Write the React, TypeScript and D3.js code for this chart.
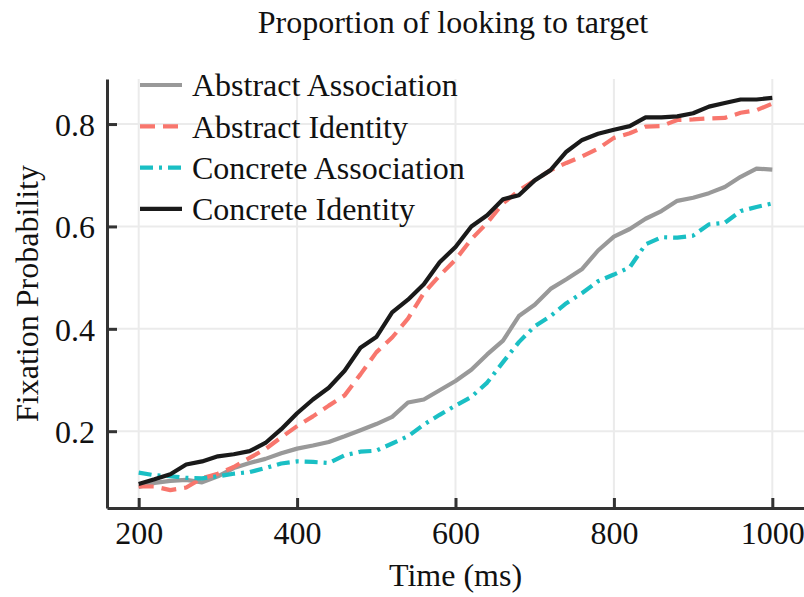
import React, { useEffect, useRef } from "react"
import * as d3 from "d3"

// time points (ms), every 20 ms
const times = [200, 220, 240, 260, 280, 300, 320, 340, 360, 380, 400, 420, 440, 460, 480, 500, 520, 540, 560, 580, 600,
  620, 640, 660, 680, 700, 720, 740, 760, 780, 800, 820, 840, 860, 880, 900, 920, 940, 960, 980, 1000]

const abstractAssociation = [0.091, 0.099, 0.103, 0.105, 0.100, 0.112, 0.128, 0.138, 0.146, 0.157, 0.166, 0.172, 0.179, 0.190,
  0.202, 0.214, 0.228, 0.256, 0.262, 0.280, 0.298, 0.320, 0.350, 0.377, 0.425, 0.447, 0.478, 0.497, 0.517, 0.553,
  0.580, 0.595, 0.615, 0.630, 0.650, 0.656, 0.665, 0.677, 0.697, 0.713, 0.711]

const abstractIdentity = [0.092, 0.092, 0.085, 0.090, 0.108, 0.117, 0.130, 0.148, 0.165, 0.188, 0.210, 0.229, 0.250, 0.270,
  0.311, 0.354, 0.383, 0.420, 0.470, 0.504, 0.535, 0.575, 0.607, 0.645, 0.670, 0.690, 0.710, 0.724, 0.737, 0.752,
  0.773, 0.782, 0.795, 0.796, 0.808, 0.809, 0.811, 0.812, 0.822, 0.827, 0.840]

const concreteAssociation = [0.119, 0.114, 0.112, 0.109, 0.108, 0.112, 0.117, 0.120, 0.128, 0.137, 0.141, 0.140, 0.138, 0.153,
  0.160, 0.162, 0.176, 0.190, 0.213, 0.232, 0.250, 0.267, 0.295, 0.335, 0.374, 0.405, 0.425, 0.450, 0.470, 0.493,
  0.506, 0.520, 0.565, 0.579, 0.578, 0.582, 0.604, 0.607, 0.630, 0.638, 0.645]

const concreteIdentity = [0.097, 0.106, 0.116, 0.135, 0.141, 0.151, 0.155, 0.161, 0.177, 0.204, 0.235, 0.262, 0.285, 0.318,
  0.363, 0.384, 0.432, 0.457, 0.487, 0.530, 0.560, 0.600, 0.622, 0.653, 0.661, 0.690, 0.710, 0.746, 0.769, 0.781,
  0.789, 0.796, 0.813, 0.813, 0.815, 0.821, 0.834, 0.841, 0.848, 0.848, 0.851]

const seriesNames = ["Abstract Association", "Abstract Identity", "Concrete Association", "Concrete Identity"]
const seriesValues = [abstractAssociation, abstractIdentity, concreteAssociation, concreteIdentity]
const seriesColors = ["#999999", "#F8766D", "#1ABFC4", "#1a1a1a"]
const seriesDash = ["none", "15,8", "13,6,3,6", "none"]

const xTicks = [200, 400, 600, 800, 1000]
const yTicks = [0.2, 0.4, 0.6, 0.8]

const W = 804
const H = 597
const FONT = "'Liberation Serif', 'Times New Roman', serif"
const FS = 32

export default function App() {
  const ref = useRef<SVGSVGElement>(null)

  useEffect(() => {
    const svg = d3.select(ref.current)
    svg.selectAll("*").remove()

    const margin = { top: 79, right: 0, bottom: 89, left: 107 }

    const x = d3.scaleLinear().domain([160, 1040]).range([margin.left, W - margin.right])
    const y = d3.scaleLinear().domain([0.05, 0.888]).range([H - margin.bottom, margin.top])

    // grid
    const grid = svg.append("g")
    grid.selectAll(".gx").data(xTicks).enter().append("line")
      .attr("x1", d => x(d)).attr("x2", d => x(d))
      .attr("y1", margin.top).attr("y2", H - margin.bottom)
      .attr("stroke", "#ebebeb").attr("stroke-width", 2)
    grid.selectAll(".gy").data(yTicks).enter().append("line")
      .attr("x1", margin.left).attr("x2", W - margin.right)
      .attr("y1", d => y(d)).attr("y2", d => y(d))
      .attr("stroke", "#ebebeb").attr("stroke-width", 2)

    // lines
    const line = d3.line<number>()
      .x((d, i) => x(times[i]))
      .y(d => y(d))

    seriesValues.forEach((vals, k) => {
      svg.append("path")
        .datum(vals)
        .attr("fill", "none")
        .attr("stroke", seriesColors[k])
        .attr("stroke-width", 4.2)
        .attr("stroke-dasharray", seriesDash[k])
        .attr("stroke-linejoin", "round")
        .attr("d", line)
    })

    // axes
    const xAxis = svg.append("g")
      .attr("transform", `translate(0,${H - margin.bottom})`)
      .call(d3.axisBottom(x).tickValues(xTicks).tickSizeInner(-10).tickSizeOuter(0).tickPadding(13).tickFormat(d3.format("d")))
    const yAxis = svg.append("g")
      .attr("transform", `translate(${margin.left},0)`)
      .call(d3.axisLeft(y).tickValues(yTicks).tickSizeInner(-10).tickSizeOuter(0).tickPadding(12).tickFormat(d3.format(".1f")))

    ;[xAxis, yAxis].forEach(g => {
      g.select(".domain").attr("stroke", "#333333").attr("stroke-width", 3)
      g.selectAll(".tick line").attr("stroke", "#333333").attr("stroke-width", 3)
      g.selectAll(".tick text").attr("fill", "#111").attr("font-size", FS).attr("font-family", FONT)
    })
    yAxis.selectAll(".tick text").attr("dy", "0.35em")
    xAxis.selectAll(".tick text").attr("dy", "0.71em")

    // titles
    svg.append("text")
      .attr("x", 453).attr("y", 33)
      .attr("text-anchor", "middle")
      .attr("font-family", FONT).attr("font-size", FS).attr("fill", "#111")
      .text("Proportion of looking to target")

    svg.append("text")
      .attr("x", (margin.left + W) / 2).attr("y", 586)
      .attr("text-anchor", "middle")
      .attr("font-family", FONT).attr("font-size", FS).attr("fill", "#111")
      .text("Time (ms)")

    svg.append("text")
      .attr("transform", `translate(38,${(margin.top + H - margin.bottom) / 2}) rotate(-90)`)
      .attr("text-anchor", "middle")
      .attr("font-family", FONT).attr("font-size", FS).attr("fill", "#111")
      .text("Fixation Probability")

    // legend
    const legend = svg.append("g")
    seriesNames.forEach((name, k) => {
      const ly = 85 + k * 41.3
      legend.append("line")
        .attr("x1", 140).attr("x2", 182)
        .attr("y1", ly).attr("y2", ly)
        .attr("stroke", seriesColors[k]).attr("stroke-width", 4.2)
        .attr("stroke-dasharray", seriesDash[k])
      legend.append("text")
        .attr("x", 192).attr("y", ly)
        .attr("dy", "0.35em")
        .attr("font-family", FONT).attr("font-size", FS).attr("fill", "#111")
        .text(name)
    })
  }, [])

  return <svg ref={ref} width={W} height={H} style={{ position: "absolute", left: 0, top: 0, background: "#fff" }} />
}
